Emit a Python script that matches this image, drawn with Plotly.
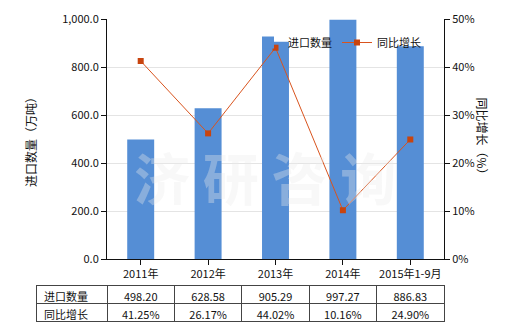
import plotly.graph_objects as go

categories = ["2011年", "2012年", "2013年", "2014年", "2015年1-9月"]
import_qty = [498.20, 628.58, 905.29, 997.27, 886.83]
yoy_growth = [41.25, 26.17, 44.02, 10.16, 24.90]
qty_labels = ["498.20", "628.58", "905.29", "997.27", "886.83"]
growth_labels = ["41.25%", "26.17%", "44.02%", "10.16%", "24.90%"]
left_ticks = [0, 200, 400, 600, 800, 1000]
right_ticks = [0, 10, 20, 30, 40, 50]
right_tick_text = ["0%", "10%", "20%", "30%", "40%", "50%"]

W, H = 520, 330
FONT = "Noto Sans CJK SC"
BAR = "#558ed5"
LINE = "#d9541e"

def px_x(x):
    return x / W

def px_y(y):
    return 1 - y / H

fig = go.Figure()
fig.add_trace(go.Bar(
    x=categories, y=import_qty, name="进口数量",
    marker=dict(color=BAR, line=dict(width=0)), width=0.4,
    xaxis="x", yaxis="y",
))
fig.add_trace(go.Scatter(
    x=categories, y=yoy_growth, name="同比增长", mode="lines+markers",
    line=dict(color=LINE, width=1),
    marker=dict(symbol="square", size=6, color="#c8440e"),
    xaxis="x", yaxis="y2",
))

fig.add_trace(go.Table(
    domain=dict(x=[px_x(36), px_x(444)], y=[px_y(323), px_y(285)]),
    columnwidth=[71] + [67.4] * 5,
    header=dict(
        values=["进口数量"] + qty_labels,
        align=["left"] + ["center"] * 5,
        fill=dict(color="white"),
        line=dict(color="#444444", width=1),
        font=dict(family=FONT, size=11, color="#111111"),
        height=18,
    ),
    cells=dict(
        values=[["同比增长"]] + [[g] for g in growth_labels],
        align=["left"] + ["center"] * 5,
        fill=dict(color="white"),
        line=dict(color="#444444", width=1),
        font=dict(family=FONT, size=11, color="#111111"),
        height=18,
    ),
))

fig.add_annotation(
    text="<b>济 研 咨 询</b>", x=px_x(265), y=px_y(175), xref="paper", yref="paper",
    showarrow=False, font=dict(family=FONT, size=56, color="rgba(236,236,236,0.35)"),
)
fig.add_annotation(
    text="同比增长（%）", x=px_x(492), y=px_y(139), xref="paper", yref="paper",
    showarrow=False, textangle=90, font=dict(family=FONT, size=12, color="#111111"),
)

axis_font = dict(family=FONT, size=11, color="#111111")
fig.update_layout(
    width=W, height=H,
    margin=dict(l=0, r=0, t=0, b=0),
    paper_bgcolor="white", plot_bgcolor="white",
    font=dict(family=FONT, size=11, color="#111111"),
    xaxis=dict(
        domain=[px_x(107), px_x(444)],
        showline=True, linecolor="#111111", linewidth=1,
        ticks="outside", ticklen=5, tickcolor="#111111",
        tickfont=axis_font, automargin=False,
        anchor="y",
    ),
    yaxis=dict(
        domain=[px_y(259), px_y(19)],
        range=[0, 1000], tickvals=left_ticks, tickformat=",.1f",
        showline=True, linecolor="#111111", linewidth=1,
        ticks="outside", ticklen=5, tickcolor="#111111",
        showgrid=True, gridcolor="#e4e4e4", gridwidth=1,
        zeroline=False, tickfont=axis_font, automargin=False,
        title=dict(text="进口数量（万吨）", font=dict(family=FONT, size=12), standoff=22),
    ),
    yaxis2=dict(
        overlaying="y", side="right", anchor="x",
        range=[0, 50], tickmode="array", tickvals=right_ticks, ticktext=right_tick_text,
        showline=True, linecolor="#111111", linewidth=1,
        ticks="outside", ticklen=5, tickcolor="#111111",
        showgrid=False, zeroline=False, tickfont=axis_font, automargin=False,
    ),
    legend=dict(
        orientation="h", x=px_x(248), y=px_y(28), xanchor="left", yanchor="top",
        bgcolor="rgba(0,0,0,0)", font=dict(family=FONT, size=11, color="#111111"),
        itemwidth=30,
    ),
)

fig.write_html("out.html")
